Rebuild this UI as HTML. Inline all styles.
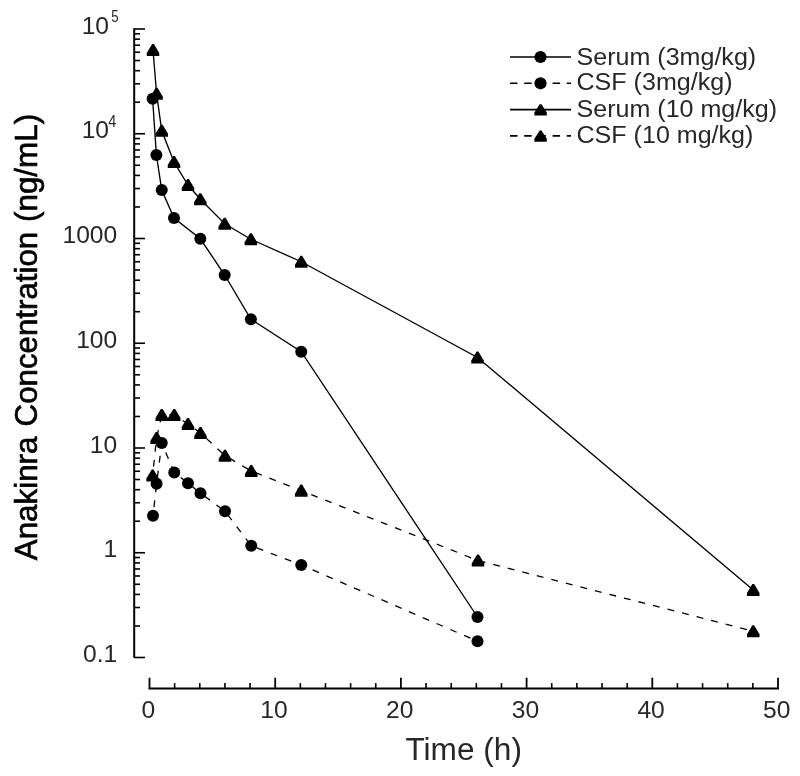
<!DOCTYPE html>
<html><head><meta charset="utf-8"><title>Chart</title>
<style>html,body{margin:0;padding:0;background:#fff;}body{width:800px;height:776px;position:relative;overflow:hidden;font-family:"Liberation Sans",sans-serif;}</style></head>
<body>
<svg width="800" height="776" viewBox="0 0 800 776" style="position:absolute;left:0;top:0;will-change:transform">
<rect width="800" height="776" fill="#fff"/>
<g stroke="#000" fill="none">
<line x1="134.2" y1="28.2" x2="134.2" y2="657.8" stroke-width="2"/>
<line x1="134.2" y1="29.00" x2="145" y2="29.00" stroke-width="1.6"/>
<line x1="134.2" y1="102.22" x2="140" y2="102.22" stroke-width="1.6"/>
<line x1="134.2" y1="83.77" x2="140" y2="83.77" stroke-width="1.6"/>
<line x1="134.2" y1="70.68" x2="140" y2="70.68" stroke-width="1.6"/>
<line x1="134.2" y1="60.53" x2="140" y2="60.53" stroke-width="1.6"/>
<line x1="134.2" y1="52.24" x2="140" y2="52.24" stroke-width="1.6"/>
<line x1="134.2" y1="45.23" x2="140" y2="45.23" stroke-width="1.6"/>
<line x1="134.2" y1="39.15" x2="140" y2="39.15" stroke-width="1.6"/>
<line x1="134.2" y1="33.79" x2="140" y2="33.79" stroke-width="1.6"/>
<line x1="134.2" y1="133.75" x2="145" y2="133.75" stroke-width="1.6"/>
<line x1="134.2" y1="206.97" x2="140" y2="206.97" stroke-width="1.6"/>
<line x1="134.2" y1="188.52" x2="140" y2="188.52" stroke-width="1.6"/>
<line x1="134.2" y1="175.43" x2="140" y2="175.43" stroke-width="1.6"/>
<line x1="134.2" y1="165.28" x2="140" y2="165.28" stroke-width="1.6"/>
<line x1="134.2" y1="156.99" x2="140" y2="156.99" stroke-width="1.6"/>
<line x1="134.2" y1="149.98" x2="140" y2="149.98" stroke-width="1.6"/>
<line x1="134.2" y1="143.90" x2="140" y2="143.90" stroke-width="1.6"/>
<line x1="134.2" y1="138.54" x2="140" y2="138.54" stroke-width="1.6"/>
<line x1="134.2" y1="238.50" x2="145" y2="238.50" stroke-width="1.6"/>
<line x1="134.2" y1="311.72" x2="140" y2="311.72" stroke-width="1.6"/>
<line x1="134.2" y1="293.27" x2="140" y2="293.27" stroke-width="1.6"/>
<line x1="134.2" y1="280.18" x2="140" y2="280.18" stroke-width="1.6"/>
<line x1="134.2" y1="270.03" x2="140" y2="270.03" stroke-width="1.6"/>
<line x1="134.2" y1="261.74" x2="140" y2="261.74" stroke-width="1.6"/>
<line x1="134.2" y1="254.73" x2="140" y2="254.73" stroke-width="1.6"/>
<line x1="134.2" y1="248.65" x2="140" y2="248.65" stroke-width="1.6"/>
<line x1="134.2" y1="243.29" x2="140" y2="243.29" stroke-width="1.6"/>
<line x1="134.2" y1="343.25" x2="145" y2="343.25" stroke-width="1.6"/>
<line x1="134.2" y1="416.47" x2="140" y2="416.47" stroke-width="1.6"/>
<line x1="134.2" y1="398.02" x2="140" y2="398.02" stroke-width="1.6"/>
<line x1="134.2" y1="384.93" x2="140" y2="384.93" stroke-width="1.6"/>
<line x1="134.2" y1="374.78" x2="140" y2="374.78" stroke-width="1.6"/>
<line x1="134.2" y1="366.49" x2="140" y2="366.49" stroke-width="1.6"/>
<line x1="134.2" y1="359.48" x2="140" y2="359.48" stroke-width="1.6"/>
<line x1="134.2" y1="353.40" x2="140" y2="353.40" stroke-width="1.6"/>
<line x1="134.2" y1="348.04" x2="140" y2="348.04" stroke-width="1.6"/>
<line x1="134.2" y1="448.00" x2="145" y2="448.00" stroke-width="1.6"/>
<line x1="134.2" y1="521.22" x2="140" y2="521.22" stroke-width="1.6"/>
<line x1="134.2" y1="502.77" x2="140" y2="502.77" stroke-width="1.6"/>
<line x1="134.2" y1="489.68" x2="140" y2="489.68" stroke-width="1.6"/>
<line x1="134.2" y1="479.53" x2="140" y2="479.53" stroke-width="1.6"/>
<line x1="134.2" y1="471.24" x2="140" y2="471.24" stroke-width="1.6"/>
<line x1="134.2" y1="464.23" x2="140" y2="464.23" stroke-width="1.6"/>
<line x1="134.2" y1="458.15" x2="140" y2="458.15" stroke-width="1.6"/>
<line x1="134.2" y1="452.79" x2="140" y2="452.79" stroke-width="1.6"/>
<line x1="134.2" y1="552.75" x2="145" y2="552.75" stroke-width="1.6"/>
<line x1="134.2" y1="625.97" x2="140" y2="625.97" stroke-width="1.6"/>
<line x1="134.2" y1="607.52" x2="140" y2="607.52" stroke-width="1.6"/>
<line x1="134.2" y1="594.43" x2="140" y2="594.43" stroke-width="1.6"/>
<line x1="134.2" y1="584.28" x2="140" y2="584.28" stroke-width="1.6"/>
<line x1="134.2" y1="575.99" x2="140" y2="575.99" stroke-width="1.6"/>
<line x1="134.2" y1="568.98" x2="140" y2="568.98" stroke-width="1.6"/>
<line x1="134.2" y1="562.90" x2="140" y2="562.90" stroke-width="1.6"/>
<line x1="134.2" y1="557.54" x2="140" y2="557.54" stroke-width="1.6"/>
<line x1="134.2" y1="657.50" x2="145" y2="657.50" stroke-width="1.6"/>
<line x1="148.5" y1="688.5" x2="779" y2="688.5" stroke-width="2"/>
<line x1="149.50" y1="677.7" x2="149.50" y2="688.5" stroke-width="1.8"/>
<line x1="174.64" y1="683.1" x2="174.64" y2="688.5" stroke-width="1.6"/>
<line x1="199.78" y1="683.1" x2="199.78" y2="688.5" stroke-width="1.6"/>
<line x1="224.92" y1="683.1" x2="224.92" y2="688.5" stroke-width="1.6"/>
<line x1="250.06" y1="683.1" x2="250.06" y2="688.5" stroke-width="1.6"/>
<line x1="275.20" y1="677.7" x2="275.20" y2="688.5" stroke-width="1.8"/>
<line x1="300.34" y1="683.1" x2="300.34" y2="688.5" stroke-width="1.6"/>
<line x1="325.48" y1="683.1" x2="325.48" y2="688.5" stroke-width="1.6"/>
<line x1="350.62" y1="683.1" x2="350.62" y2="688.5" stroke-width="1.6"/>
<line x1="375.76" y1="683.1" x2="375.76" y2="688.5" stroke-width="1.6"/>
<line x1="400.90" y1="677.7" x2="400.90" y2="688.5" stroke-width="1.8"/>
<line x1="426.04" y1="683.1" x2="426.04" y2="688.5" stroke-width="1.6"/>
<line x1="451.18" y1="683.1" x2="451.18" y2="688.5" stroke-width="1.6"/>
<line x1="476.32" y1="683.1" x2="476.32" y2="688.5" stroke-width="1.6"/>
<line x1="501.46" y1="683.1" x2="501.46" y2="688.5" stroke-width="1.6"/>
<line x1="526.60" y1="677.7" x2="526.60" y2="688.5" stroke-width="1.8"/>
<line x1="551.74" y1="683.1" x2="551.74" y2="688.5" stroke-width="1.6"/>
<line x1="576.88" y1="683.1" x2="576.88" y2="688.5" stroke-width="1.6"/>
<line x1="602.02" y1="683.1" x2="602.02" y2="688.5" stroke-width="1.6"/>
<line x1="627.16" y1="683.1" x2="627.16" y2="688.5" stroke-width="1.6"/>
<line x1="652.30" y1="677.7" x2="652.30" y2="688.5" stroke-width="1.8"/>
<line x1="677.44" y1="683.1" x2="677.44" y2="688.5" stroke-width="1.6"/>
<line x1="702.58" y1="683.1" x2="702.58" y2="688.5" stroke-width="1.6"/>
<line x1="727.72" y1="683.1" x2="727.72" y2="688.5" stroke-width="1.6"/>
<line x1="752.86" y1="683.1" x2="752.86" y2="688.5" stroke-width="1.6"/>
<line x1="778.00" y1="677.7" x2="778.00" y2="688.5" stroke-width="1.8"/>
</g>
<polyline points="153,50 156.6,93.75 161.75,130.75 174,162 188,185 200.3,199.25 224.7,223.75 250.9,239.25 301.25,261.75 477.5,357.5 753.25,590" fill="none" stroke="#000" stroke-width="1.35"/>
<polyline points="152.6,98.75 156.4,155 161.75,190 174,218 200.3,238.75 224.7,275 250.9,319.25 301.25,351.75 477.5,617" fill="none" stroke="#000" stroke-width="1.35"/>
<polyline points="152.6,475.5 156.6,438 161.75,415 174.25,415 188,424 200.5,433 225,455.75 251.25,471 301.25,490.6 478,560.5 753.25,631.25" fill="none" stroke="#000" stroke-width="1.3" stroke-dasharray="6.9 8.1" stroke-dashoffset="6.13"/>
<polyline points="153,515.75 156.6,483.75 161.75,443 174.25,472.5 188,483.25 200.5,493.25 225,511.25 251.25,545.75 301.25,565 477.5,641.25" fill="none" stroke="#000" stroke-width="1.3" stroke-dasharray="6.9 8.1" stroke-dashoffset="6.49"/>
<polygon points="152.10,43.90 153.90,43.90 159.25,53.10 159.25,56.10 146.75,56.10 146.75,53.10" fill="#000"/>
<polygon points="155.70,87.65 157.50,87.65 162.85,96.85 162.85,99.85 150.35,99.85 150.35,96.85" fill="#000"/>
<polygon points="160.85,124.65 162.65,124.65 168.00,133.85 168.00,136.85 155.50,136.85 155.50,133.85" fill="#000"/>
<polygon points="173.10,155.90 174.90,155.90 180.25,165.10 180.25,168.10 167.75,168.10 167.75,165.10" fill="#000"/>
<polygon points="187.10,178.90 188.90,178.90 194.25,188.10 194.25,191.10 181.75,191.10 181.75,188.10" fill="#000"/>
<polygon points="199.40,193.15 201.20,193.15 206.55,202.35 206.55,205.35 194.05,205.35 194.05,202.35" fill="#000"/>
<polygon points="223.80,217.65 225.60,217.65 230.95,226.85 230.95,229.85 218.45,229.85 218.45,226.85" fill="#000"/>
<polygon points="250.00,233.15 251.80,233.15 257.15,242.35 257.15,245.35 244.65,245.35 244.65,242.35" fill="#000"/>
<polygon points="300.35,255.65 302.15,255.65 307.50,264.85 307.50,267.85 295.00,267.85 295.00,264.85" fill="#000"/>
<polygon points="476.60,351.40 478.40,351.40 483.75,360.60 483.75,363.60 471.25,363.60 471.25,360.60" fill="#000"/>
<polygon points="752.35,583.90 754.15,583.90 759.50,593.10 759.50,596.10 747.00,596.10 747.00,593.10" fill="#000"/>
<polygon points="151.70,469.40 153.50,469.40 158.85,478.60 158.85,481.60 146.35,481.60 146.35,478.60" fill="#000"/>
<polygon points="155.70,431.90 157.50,431.90 162.85,441.10 162.85,444.10 150.35,444.10 150.35,441.10" fill="#000"/>
<polygon points="160.85,408.90 162.65,408.90 168.00,418.10 168.00,421.10 155.50,421.10 155.50,418.10" fill="#000"/>
<polygon points="173.35,408.90 175.15,408.90 180.50,418.10 180.50,421.10 168.00,421.10 168.00,418.10" fill="#000"/>
<polygon points="187.10,417.90 188.90,417.90 194.25,427.10 194.25,430.10 181.75,430.10 181.75,427.10" fill="#000"/>
<polygon points="199.60,426.90 201.40,426.90 206.75,436.10 206.75,439.10 194.25,439.10 194.25,436.10" fill="#000"/>
<polygon points="224.10,449.65 225.90,449.65 231.25,458.85 231.25,461.85 218.75,461.85 218.75,458.85" fill="#000"/>
<polygon points="250.35,464.90 252.15,464.90 257.50,474.10 257.50,477.10 245.00,477.10 245.00,474.10" fill="#000"/>
<polygon points="300.35,484.50 302.15,484.50 307.50,493.70 307.50,496.70 295.00,496.70 295.00,493.70" fill="#000"/>
<polygon points="477.10,554.40 478.90,554.40 484.25,563.60 484.25,566.60 471.75,566.60 471.75,563.60" fill="#000"/>
<polygon points="752.35,625.15 754.15,625.15 759.50,634.35 759.50,637.35 747.00,637.35 747.00,634.35" fill="#000"/>
<circle cx="152.6" cy="98.75" r="6.0" fill="#000"/>
<circle cx="156.4" cy="155" r="6.0" fill="#000"/>
<circle cx="161.75" cy="190" r="6.0" fill="#000"/>
<circle cx="174" cy="218" r="6.0" fill="#000"/>
<circle cx="200.3" cy="238.75" r="6.0" fill="#000"/>
<circle cx="224.7" cy="275" r="6.0" fill="#000"/>
<circle cx="250.9" cy="319.25" r="6.0" fill="#000"/>
<circle cx="301.25" cy="351.75" r="6.0" fill="#000"/>
<circle cx="477.5" cy="617" r="6.0" fill="#000"/>
<circle cx="153" cy="515.75" r="6.0" fill="#000"/>
<circle cx="156.6" cy="483.75" r="6.0" fill="#000"/>
<circle cx="161.75" cy="443" r="6.0" fill="#000"/>
<circle cx="174.25" cy="472.5" r="6.0" fill="#000"/>
<circle cx="188" cy="483.25" r="6.0" fill="#000"/>
<circle cx="200.5" cy="493.25" r="6.0" fill="#000"/>
<circle cx="225" cy="511.25" r="6.0" fill="#000"/>
<circle cx="251.25" cy="545.75" r="6.0" fill="#000"/>
<circle cx="301.25" cy="565" r="6.0" fill="#000"/>
<circle cx="477.5" cy="641.25" r="6.0" fill="#000"/>
<line x1="510" y1="57" x2="571" y2="57" stroke="#000" stroke-width="1.6"/>
<circle cx="540.5" cy="57" r="6.1" fill="#000"/>
<line x1="510" y1="83.3" x2="571" y2="83.3" stroke="#000" stroke-width="1.6" stroke-dasharray="7.5 6.7"/>
<circle cx="540.5" cy="83.3" r="6.1" fill="#000"/>
<line x1="510" y1="109.6" x2="571" y2="109.6" stroke="#000" stroke-width="1.6"/>
<polygon points="539.70,104.30 541.50,104.30 546.80,112.50 546.80,115.50 534.40,115.50 534.40,112.50" fill="#000"/>
<line x1="510" y1="135.9" x2="571" y2="135.9" stroke="#000" stroke-width="1.6" stroke-dasharray="7.5 6.7"/>
<polygon points="539.70,130.60 541.50,130.60 546.80,138.80 546.80,141.80 534.40,141.80 534.40,138.80" fill="#000"/>
<g font-family="Liberation Sans, sans-serif" fill="#272727">
<text transform="translate(576.5,64.6) scale(1.045,1)" font-size="24">Serum (3mg/kg)</text>
<text transform="translate(576.5,90.2) scale(1.045,1)" font-size="24">CSF (3mg/kg)</text>
<text transform="translate(576.5,116.7) scale(1.045,1)" font-size="24">Serum (10 mg/kg)</text>
<text transform="translate(576.5,142.8) scale(1.045,1)" font-size="24">CSF (10 mg/kg)</text>
<text transform="translate(117.2,243.00) scale(1.025,1)" font-size="24" text-anchor="end">1000</text>
<text transform="translate(117.2,347.75) scale(1.025,1)" font-size="24" text-anchor="end">100</text>
<text transform="translate(117.2,452.50) scale(1.025,1)" font-size="24" text-anchor="end">10</text>
<text transform="translate(117.2,557.25) scale(1.025,1)" font-size="24" text-anchor="end">1</text>
<text transform="translate(117.2,662.00) scale(1.025,1)" font-size="24" text-anchor="end">0.1</text>
<text transform="translate(109,33.70) scale(1.025,1)" font-size="24" text-anchor="end">10</text>
<text transform="translate(111.3,21.80) scale(0.84,1)" font-size="15.7">5</text>
<text transform="translate(109,138.45) scale(1.025,1)" font-size="24" text-anchor="end">10</text>
<text transform="translate(108.3,126.55) scale(0.92,1)" font-size="15.7">4</text>
<text transform="translate(148.30,717.6) scale(1.025,1)" font-size="24" text-anchor="middle">0</text>
<text transform="translate(274.00,717.6) scale(1.025,1)" font-size="24" text-anchor="middle">10</text>
<text transform="translate(399.70,717.6) scale(1.025,1)" font-size="24" text-anchor="middle">20</text>
<text transform="translate(525.40,717.6) scale(1.025,1)" font-size="24" text-anchor="middle">30</text>
<text transform="translate(651.10,717.6) scale(1.025,1)" font-size="24" text-anchor="middle">40</text>
<text transform="translate(776.80,717.6) scale(1.025,1)" font-size="24" text-anchor="middle">50</text>
<text transform="translate(463.7,759.7) scale(1.02,1)" font-size="31" text-anchor="middle">Time (h)</text>
<text transform="translate(37,560.2) rotate(-90) scale(1.011,1)" font-size="31" fill="#000" stroke="#000" stroke-width="0.6">Anakinra</text>
<text transform="translate(37,426.4) rotate(-90) scale(1.009,1)" font-size="31" fill="#000" stroke="#000" stroke-width="0.6">Concentration</text>
<text transform="translate(37,222.0) rotate(-90) scale(1.013,1)" font-size="31" fill="#000" stroke="#000" stroke-width="0.6">(ng/mL)</text>
</g>
</svg>
</body></html>
